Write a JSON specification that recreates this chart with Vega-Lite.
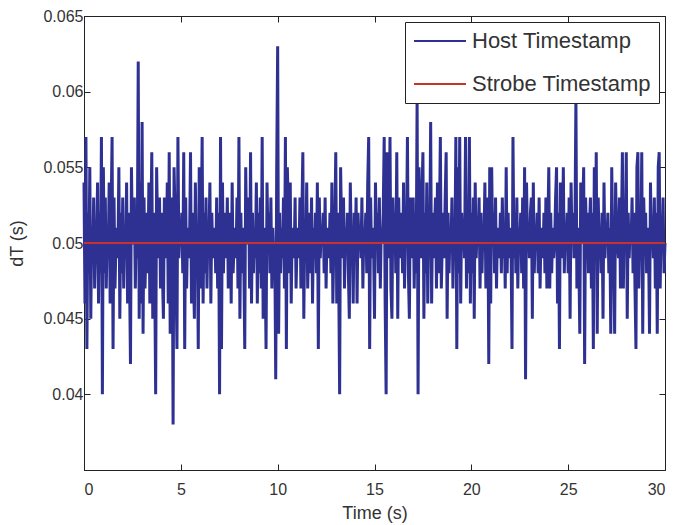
{
"$schema": "https://vega.github.io/schema/vega-lite/v6.json",
"width": 581, "height": 454,
"autosize": {"type": "none"},
"padding": {"left": 84, "top": 16, "right": 10, "bottom": 55},
"background": "white",
"config": {
  "view": {"stroke": "#222", "strokeWidth": 1},
  "font": "Liberation Sans",
  "axis": {"domainColor": "#222", "tickColor": "#222", "labelColor": "#333", "titleColor": "#333", "labelFont": "Liberation Sans", "titleFont": "Liberation Sans", "labelFontSize": 16, "titleFontSize": 18, "titleFontWeight": "normal", "grid": false, "tickSize": -6, "domainWidth": 1, "tickWidth": 1}
},
"datasets": {
"host": [
{"t":0,"v":0.054},{"t":0.05,"v":0.046},{"t":0.1,"v":0.057},{"t":0.15,"v":0.043},{"t":0.2,"v":0.052},{"t":0.25,"v":0.048},{"t":0.3,"v":0.055},{"t":0.35,"v":0.045},{"t":0.4,"v":0.051},{"t":0.45,"v":0.049},{"t":0.5,"v":0.053},{"t":0.55,"v":0.047},{"t":0.6,"v":0.05},{"t":0.65,"v":0.05},{"t":0.7,"v":0.054},{"t":0.75,"v":0.046},{"t":0.8,"v":0.052},{"t":0.85,"v":0.048},{"t":0.9,"v":0.057},{"t":0.95,"v":0.04},
{"t":1,"v":0.055},{"t":1.05,"v":0.048},{"t":1.1,"v":0.053},{"t":1.15,"v":0.047},{"t":1.2,"v":0.051},{"t":1.25,"v":0.049},{"t":1.3,"v":0.054},{"t":1.35,"v":0.046},{"t":1.4,"v":0.052},{"t":1.45,"v":0.057},{"t":1.5,"v":0.043},{"t":1.55,"v":0.053},{"t":1.6,"v":0.047},{"t":1.65,"v":0.05},{"t":1.7,"v":0.051},{"t":1.75,"v":0.049},{"t":1.8,"v":0.055},{"t":1.85,"v":0.045},{"t":1.9,"v":0.052},{"t":1.95,"v":0.048},
{"t":2,"v":0.053},{"t":2.05,"v":0.047},{"t":2.1,"v":0.051},{"t":2.15,"v":0.049},{"t":2.2,"v":0.054},{"t":2.25,"v":0.046},{"t":2.3,"v":0.052},{"t":2.35,"v":0.048},{"t":2.4,"v":0.042},{"t":2.45,"v":0.055},{"t":2.5,"v":0.05},{"t":2.55,"v":0.05},{"t":2.6,"v":0.053},{"t":2.65,"v":0.047},{"t":2.7,"v":0.051},{"t":2.75,"v":0.049},{"t":2.8,"v":0.062},{"t":2.85,"v":0.045},{"t":2.9,"v":0.054},{"t":2.95,"v":0.046},
{"t":3,"v":0.058},{"t":3.05,"v":0.044},{"t":3.1,"v":0.053},{"t":3.15,"v":0.047},{"t":3.2,"v":0.05},{"t":3.25,"v":0.052},{"t":3.3,"v":0.048},{"t":3.35,"v":0.054},{"t":3.4,"v":0.046},{"t":3.45,"v":0.051},{"t":3.5,"v":0.056},{"t":3.55,"v":0.045},{"t":3.6,"v":0.052},{"t":3.65,"v":0.048},{"t":3.7,"v":0.04},{"t":3.75,"v":0.055},{"t":3.8,"v":0.051},{"t":3.85,"v":0.049},{"t":3.9,"v":0.053},{"t":3.95,"v":0.047},
{"t":4,"v":0.052},{"t":4.05,"v":0.048},{"t":4.1,"v":0.045},{"t":4.15,"v":0.053},{"t":4.2,"v":0.05},{"t":4.25,"v":0.049},{"t":4.3,"v":0.054},{"t":4.35,"v":0.046},{"t":4.4,"v":0.056},{"t":4.45,"v":0.044},{"t":4.5,"v":0.051},{"t":4.55,"v":0.053},{"t":4.6,"v":0.038},{"t":4.65,"v":0.055},{"t":4.7,"v":0.052},{"t":4.75,"v":0.048},{"t":4.8,"v":0.043},{"t":4.85,"v":0.057},{"t":4.9,"v":0.049},{"t":4.95,"v":0.051},
{"t":5,"v":0.05},{"t":5.05,"v":0.052},{"t":5.1,"v":0.048},{"t":5.15,"v":0.056},{"t":5.2,"v":0.043},{"t":5.25,"v":0.053},{"t":5.3,"v":0.047},{"t":5.35,"v":0.051},{"t":5.4,"v":0.049},{"t":5.45,"v":0.05},{"t":5.5,"v":0.056},{"t":5.55,"v":0.046},{"t":5.6,"v":0.052},{"t":5.65,"v":0.048},{"t":5.7,"v":0.045},{"t":5.75,"v":0.054},{"t":5.8,"v":0.049},{"t":5.85,"v":0.051},{"t":5.9,"v":0.043},{"t":5.95,"v":0.055},
{"t":6,"v":0.047},{"t":6.05,"v":0.05},{"t":6.1,"v":0.057},{"t":6.15,"v":0.046},{"t":6.2,"v":0.052},{"t":6.25,"v":0.048},{"t":6.3,"v":0.053},{"t":6.35,"v":0.047},{"t":6.4,"v":0.051},{"t":6.45,"v":0.05},{"t":6.5,"v":0.054},{"t":6.55,"v":0.046},{"t":6.6,"v":0.052},{"t":6.65,"v":0.049},{"t":6.7,"v":0.05},{"t":6.75,"v":0.051},{"t":6.8,"v":0.048},{"t":6.85,"v":0.053},{"t":6.9,"v":0.047},{"t":6.95,"v":0.052},
{"t":7,"v":0.04},{"t":7.05,"v":0.057},{"t":7.1,"v":0.043},{"t":7.15,"v":0.054},{"t":7.2,"v":0.048},{"t":7.25,"v":0.052},{"t":7.3,"v":0.05},{"t":7.35,"v":0.049},{"t":7.4,"v":0.053},{"t":7.45,"v":0.047},{"t":7.5,"v":0.051},{"t":7.55,"v":0.052},{"t":7.6,"v":0.046},{"t":7.65,"v":0.054},{"t":7.7,"v":0.048},{"t":7.75,"v":0.05},{"t":7.8,"v":0.051},{"t":7.85,"v":0.049},{"t":7.9,"v":0.053},{"t":7.95,"v":0.047},
{"t":8,"v":0.057},{"t":8.05,"v":0.045},{"t":8.1,"v":0.052},{"t":8.15,"v":0.048},{"t":8.2,"v":0.051},{"t":8.25,"v":0.049},{"t":8.3,"v":0.043},{"t":8.35,"v":0.055},{"t":8.4,"v":0.05},{"t":8.45,"v":0.05},{"t":8.5,"v":0.053},{"t":8.55,"v":0.047},{"t":8.6,"v":0.056},{"t":8.65,"v":0.046},{"t":8.7,"v":0.052},{"t":8.75,"v":0.048},{"t":8.8,"v":0.051},{"t":8.85,"v":0.049},{"t":8.9,"v":0.054},{"t":8.95,"v":0.046},
{"t":9,"v":0.052},{"t":9.05,"v":0.048},{"t":9.1,"v":0.053},{"t":9.15,"v":0.047},{"t":9.2,"v":0.057},{"t":9.25,"v":0.045},{"t":9.3,"v":0.051},{"t":9.35,"v":0.049},{"t":9.4,"v":0.043},{"t":9.45,"v":0.054},{"t":9.5,"v":0.05},{"t":9.55,"v":0.052},{"t":9.6,"v":0.048},{"t":9.65,"v":0.053},{"t":9.7,"v":0.047},{"t":9.75,"v":0.051},{"t":9.8,"v":0.049},{"t":9.85,"v":0.05},{"t":9.9,"v":0.041},{"t":9.95,"v":0.055},
{"t":10,"v":0.063},{"t":10.05,"v":0.044},{"t":10.1,"v":0.052},{"t":10.15,"v":0.048},{"t":10.2,"v":0.051},{"t":10.25,"v":0.049},{"t":10.3,"v":0.053},{"t":10.35,"v":0.047},{"t":10.4,"v":0.057},{"t":10.45,"v":0.043},{"t":10.5,"v":0.055},{"t":10.55,"v":0.052},{"t":10.6,"v":0.048},{"t":10.65,"v":0.054},{"t":10.7,"v":0.046},{"t":10.75,"v":0.051},{"t":10.8,"v":0.05},{"t":10.85,"v":0.049},{"t":10.9,"v":0.053},{"t":10.95,"v":0.047},
{"t":11,"v":0.05},{"t":11.05,"v":0.051},{"t":11.1,"v":0.049},{"t":11.15,"v":0.053},{"t":11.2,"v":0.047},{"t":11.25,"v":0.052},{"t":11.3,"v":0.056},{"t":11.35,"v":0.045},{"t":11.4,"v":0.051},{"t":11.45,"v":0.049},{"t":11.5,"v":0.054},{"t":11.55,"v":0.047},{"t":11.6,"v":0.05},{"t":11.65,"v":0.052},{"t":11.7,"v":0.048},{"t":11.75,"v":0.053},{"t":11.8,"v":0.046},{"t":11.85,"v":0.051},{"t":11.9,"v":0.049},{"t":11.95,"v":0.052},
{"t":12,"v":0.048},{"t":12.05,"v":0.054},{"t":12.1,"v":0.043},{"t":12.15,"v":0.053},{"t":12.2,"v":0.049},{"t":12.25,"v":0.051},{"t":12.3,"v":0.05},{"t":12.35,"v":0.052},{"t":12.4,"v":0.048},{"t":12.45,"v":0.053},{"t":12.5,"v":0.047},{"t":12.55,"v":0.051},{"t":12.6,"v":0.05},{"t":12.65,"v":0.049},{"t":12.7,"v":0.052},{"t":12.75,"v":0.048},{"t":12.8,"v":0.054},{"t":12.85,"v":0.046},{"t":12.9,"v":0.05},{"t":12.95,"v":0.051},
{"t":13,"v":0.056},{"t":13.05,"v":0.046},{"t":13.1,"v":0.052},{"t":13.15,"v":0.048},{"t":13.2,"v":0.04},{"t":13.25,"v":0.055},{"t":13.3,"v":0.051},{"t":13.35,"v":0.049},{"t":13.4,"v":0.053},{"t":13.45,"v":0.047},{"t":13.5,"v":0.051},{"t":13.55,"v":0.05},{"t":13.6,"v":0.052},{"t":13.65,"v":0.048},{"t":13.7,"v":0.045},{"t":13.75,"v":0.054},{"t":13.8,"v":0.05},{"t":13.85,"v":0.051},{"t":13.9,"v":0.046},{"t":13.95,"v":0.052},
{"t":14,"v":0.049},{"t":14.05,"v":0.053},{"t":14.1,"v":0.046},{"t":14.15,"v":0.052},{"t":14.2,"v":0.05},{"t":14.25,"v":0.051},{"t":14.3,"v":0.049},{"t":14.35,"v":0.053},{"t":14.4,"v":0.047},{"t":14.45,"v":0.051},{"t":14.5,"v":0.05},{"t":14.55,"v":0.052},{"t":14.6,"v":0.048},{"t":14.65,"v":0.054},{"t":14.7,"v":0.057},{"t":14.75,"v":0.043},{"t":14.8,"v":0.053},{"t":14.85,"v":0.049},{"t":14.9,"v":0.051},{"t":14.95,"v":0.05},
{"t":15,"v":0.045},{"t":15.05,"v":0.054},{"t":15.1,"v":0.05},{"t":15.15,"v":0.052},{"t":15.2,"v":0.048},{"t":15.25,"v":0.053},{"t":15.3,"v":0.047},{"t":15.35,"v":0.051},{"t":15.4,"v":0.05},{"t":15.45,"v":0.052},{"t":15.5,"v":0.057},{"t":15.55,"v":0.046},{"t":15.6,"v":0.04},{"t":15.65,"v":0.056},{"t":15.7,"v":0.051},{"t":15.75,"v":0.049},{"t":15.8,"v":0.057},{"t":15.85,"v":0.047},{"t":15.9,"v":0.045},{"t":15.95,"v":0.053},
{"t":16,"v":0.05},{"t":16.05,"v":0.052},{"t":16.1,"v":0.048},{"t":16.15,"v":0.056},{"t":16.2,"v":0.045},{"t":16.25,"v":0.053},{"t":16.3,"v":0.049},{"t":16.35,"v":0.051},{"t":16.4,"v":0.052},{"t":16.45,"v":0.048},{"t":16.5,"v":0.054},{"t":16.55,"v":0.047},{"t":16.6,"v":0.051},{"t":16.65,"v":0.05},{"t":16.7,"v":0.057},{"t":16.75,"v":0.048},{"t":16.8,"v":0.045},{"t":16.85,"v":0.053},{"t":16.9,"v":0.051},{"t":16.95,"v":0.049},
{"t":17,"v":0.053},{"t":17.05,"v":0.047},{"t":17.1,"v":0.052},{"t":17.15,"v":0.048},{"t":17.2,"v":0.0595},{"t":17.25,"v":0.04},{"t":17.3,"v":0.055},{"t":17.35,"v":0.051},{"t":17.4,"v":0.049},{"t":17.45,"v":0.053},{"t":17.5,"v":0.056},{"t":17.55,"v":0.045},{"t":17.6,"v":0.052},{"t":17.65,"v":0.048},{"t":17.7,"v":0.054},{"t":17.75,"v":0.046},{"t":17.8,"v":0.051},{"t":17.85,"v":0.05},{"t":17.9,"v":0.058},{"t":17.95,"v":0.046},
{"t":18,"v":0.052},{"t":18.05,"v":0.049},{"t":18.1,"v":0.051},{"t":18.15,"v":0.053},{"t":18.2,"v":0.047},{"t":18.25,"v":0.054},{"t":18.3,"v":0.048},{"t":18.35,"v":0.051},{"t":18.4,"v":0.057},{"t":18.45,"v":0.047},{"t":18.5,"v":0.05},{"t":18.55,"v":0.052},{"t":18.6,"v":0.049},{"t":18.65,"v":0.053},{"t":18.7,"v":0.056},{"t":18.75,"v":0.045},{"t":18.8,"v":0.052},{"t":18.85,"v":0.048},{"t":18.9,"v":0.051},{"t":18.95,"v":0.05},
{"t":19,"v":0.053},{"t":19.05,"v":0.047},{"t":19.1,"v":0.051},{"t":19.15,"v":0.049},{"t":19.2,"v":0.057},{"t":19.25,"v":0.043},{"t":19.3,"v":0.055},{"t":19.35,"v":0.048},{"t":19.4,"v":0.057},{"t":19.45,"v":0.046},{"t":19.5,"v":0.052},{"t":19.55,"v":0.05},{"t":19.6,"v":0.051},{"t":19.65,"v":0.049},{"t":19.7,"v":0.057},{"t":19.75,"v":0.047},{"t":19.8,"v":0.052},{"t":19.85,"v":0.048},{"t":19.9,"v":0.057},{"t":19.95,"v":0.046},
{"t":20,"v":0.052},{"t":20.05,"v":0.048},{"t":20.1,"v":0.053},{"t":20.15,"v":0.045},{"t":20.2,"v":0.054},{"t":20.25,"v":0.049},{"t":20.3,"v":0.051},{"t":20.35,"v":0.05},{"t":20.4,"v":0.053},{"t":20.45,"v":0.047},{"t":20.5,"v":0.052},{"t":20.55,"v":0.048},{"t":20.6,"v":0.051},{"t":20.65,"v":0.05},{"t":20.7,"v":0.054},{"t":20.75,"v":0.047},{"t":20.8,"v":0.051},{"t":20.85,"v":0.053},{"t":20.9,"v":0.042},{"t":20.95,"v":0.055},
{"t":21,"v":0.046},{"t":21.05,"v":0.055},{"t":21.1,"v":0.05},{"t":21.15,"v":0.052},{"t":21.2,"v":0.048},{"t":21.25,"v":0.053},{"t":21.3,"v":0.047},{"t":21.35,"v":0.051},{"t":21.4,"v":0.05},{"t":21.45,"v":0.049},{"t":21.5,"v":0.052},{"t":21.55,"v":0.048},{"t":21.6,"v":0.053},{"t":21.65,"v":0.049},{"t":21.7,"v":0.051},{"t":21.75,"v":0.047},{"t":21.8,"v":0.055},{"t":21.85,"v":0.048},{"t":21.9,"v":0.052},{"t":21.95,"v":0.049},
{"t":22,"v":0.051},{"t":22.05,"v":0.05},{"t":22.1,"v":0.043},{"t":22.15,"v":0.057},{"t":22.2,"v":0.049},{"t":22.25,"v":0.052},{"t":22.3,"v":0.048},{"t":22.35,"v":0.053},{"t":22.4,"v":0.047},{"t":22.45,"v":0.051},{"t":22.5,"v":0.05},{"t":22.55,"v":0.052},{"t":22.6,"v":0.048},{"t":22.65,"v":0.053},{"t":22.7,"v":0.047},{"t":22.75,"v":0.055},{"t":22.8,"v":0.041},{"t":22.85,"v":0.054},{"t":22.9,"v":0.05},{"t":22.95,"v":0.051},
{"t":23,"v":0.049},{"t":23.05,"v":0.052},{"t":23.1,"v":0.053},{"t":23.15,"v":0.045},{"t":23.2,"v":0.054},{"t":23.25,"v":0.048},{"t":23.3,"v":0.051},{"t":23.35,"v":0.05},{"t":23.4,"v":0.052},{"t":23.45,"v":0.048},{"t":23.5,"v":0.053},{"t":23.55,"v":0.047},{"t":23.6,"v":0.051},{"t":23.65,"v":0.05},{"t":23.7,"v":0.049},{"t":23.75,"v":0.052},{"t":23.8,"v":0.048},{"t":23.85,"v":0.053},{"t":23.9,"v":0.047},{"t":23.95,"v":0.051},
{"t":24,"v":0.055},{"t":24.05,"v":0.047},{"t":24.1,"v":0.052},{"t":24.15,"v":0.048},{"t":24.2,"v":0.051},{"t":24.25,"v":0.049},{"t":24.3,"v":0.05},{"t":24.35,"v":0.053},{"t":24.4,"v":0.055},{"t":24.45,"v":0.046},{"t":24.5,"v":0.052},{"t":24.55,"v":0.043},{"t":24.6,"v":0.054},{"t":24.65,"v":0.05},{"t":24.7,"v":0.049},{"t":24.75,"v":0.055},{"t":24.8,"v":0.048},{"t":24.85,"v":0.051},{"t":24.9,"v":0.05},{"t":24.95,"v":0.052},
{"t":25,"v":0.048},{"t":25.05,"v":0.053},{"t":25.1,"v":0.045},{"t":25.15,"v":0.054},{"t":25.2,"v":0.05},{"t":25.25,"v":0.052},{"t":25.3,"v":0.049},{"t":25.35,"v":0.051},{"t":25.4,"v":0.0595},{"t":25.45,"v":0.047},{"t":25.5,"v":0.051},{"t":25.55,"v":0.049},{"t":25.6,"v":0.044},{"t":25.65,"v":0.054},{"t":25.7,"v":0.05},{"t":25.75,"v":0.052},{"t":25.8,"v":0.055},{"t":25.85,"v":0.042},{"t":25.9,"v":0.053},{"t":25.95,"v":0.05},
{"t":26,"v":0.052},{"t":26.05,"v":0.048},{"t":26.1,"v":0.051},{"t":26.15,"v":0.053},{"t":26.2,"v":0.047},{"t":26.25,"v":0.052},{"t":26.3,"v":0.043},{"t":26.35,"v":0.055},{"t":26.4,"v":0.049},{"t":26.45,"v":0.056},{"t":26.5,"v":0.044},{"t":26.55,"v":0.053},{"t":26.6,"v":0.05},{"t":26.65,"v":0.051},{"t":26.7,"v":0.048},{"t":26.75,"v":0.052},{"t":26.8,"v":0.045},{"t":26.85,"v":0.054},{"t":26.9,"v":0.049},{"t":26.95,"v":0.051},
{"t":27,"v":0.05},{"t":27.05,"v":0.052},{"t":27.1,"v":0.048},{"t":27.15,"v":0.051},{"t":27.2,"v":0.044},{"t":27.25,"v":0.055},{"t":27.3,"v":0.05},{"t":27.35,"v":0.049},{"t":27.4,"v":0.044},{"t":27.45,"v":0.054},{"t":27.5,"v":0.051},{"t":27.55,"v":0.05},{"t":27.6,"v":0.049},{"t":27.65,"v":0.053},{"t":27.7,"v":0.047},{"t":27.75,"v":0.051},{"t":27.8,"v":0.056},{"t":27.85,"v":0.047},{"t":27.9,"v":0.052},{"t":27.95,"v":0.05},
{"t":28,"v":0.056},{"t":28.05,"v":0.045},{"t":28.1,"v":0.052},{"t":28.15,"v":0.049},{"t":28.2,"v":0.051},{"t":28.25,"v":0.05},{"t":28.3,"v":0.053},{"t":28.35,"v":0.048},{"t":28.4,"v":0.052},{"t":28.45,"v":0.047},{"t":28.5,"v":0.043},{"t":28.55,"v":0.055},{"t":28.6,"v":0.056},{"t":28.65,"v":0.047},{"t":28.7,"v":0.051},{"t":28.75,"v":0.049},{"t":28.8,"v":0.056},{"t":28.85,"v":0.044},{"t":28.9,"v":0.053},{"t":28.95,"v":0.05},
{"t":29,"v":0.052},{"t":29.05,"v":0.048},{"t":29.1,"v":0.051},{"t":29.15,"v":0.05},{"t":29.2,"v":0.044},{"t":29.25,"v":0.054},{"t":29.3,"v":0.05},{"t":29.35,"v":0.051},{"t":29.4,"v":0.049},{"t":29.45,"v":0.053},{"t":29.5,"v":0.047},{"t":29.55,"v":0.052},{"t":29.6,"v":0.044},{"t":29.65,"v":0.055},{"t":29.7,"v":0.056},{"t":29.75,"v":0.047},{"t":29.8,"v":0.051},{"t":29.85,"v":0.05},{"t":29.9,"v":0.053},{"t":29.95,"v":0.048},
{"t":30,"v":0.05}
],
"strobe": [{"t":0,"v":0.05},{"t":30,"v":0.05}]
},
"layer": [
  {
    "data": {"name": "host"},
    "mark": {"type": "line", "strokeWidth": 3},
    "encoding": {
      "x": {"field": "t", "type": "quantitative", "scale": {"domain": [0, 30], "nice": false}, "axis": {"values": [0, 5, 10, 15, 20, 25, 30], "title": "Time (s)", "labelPadding": 17, "titlePadding": 7}},
      "y": {"field": "v", "type": "quantitative", "scale": {"domain": [0.035, 0.065], "nice": false, "zero": false}, "axis": {"values": [0.04, 0.045, 0.05, 0.055, 0.06, 0.065], "format": "~g", "title": "dT (s)", "titleFontSize": 18, "labelPadding": 7, "titlePadding": 16}},
      "color": {"datum": "Host Timestamp", "type": "nominal", "scale": {"domain": ["Host Timestamp", "Strobe Timestamp"], "range": ["#2e3192", "#c8322d"]},
        "legend": {"title": null, "orient": "top-right", "offset": 6, "strokeColor": "#222", "fillColor": "white", "padding": 8, "symbolType": "stroke", "symbolSize": 2704, "symbolStrokeWidth": 2, "clipHeight": 22, "labelFontSize": 22, "labelFont": "Liberation Sans", "labelColor": "#333", "labelOffset": 5, "rowPadding": 21, "labelLimit": 400}}
    }
  },
  {
    "data": {"name": "strobe"},
    "mark": {"type": "line", "strokeWidth": 2},
    "encoding": {
      "x": {"field": "t", "type": "quantitative", "axis": null},
      "y": {"field": "v", "type": "quantitative", "axis": null},
      "color": {"datum": "Strobe Timestamp", "type": "nominal"}
    }
  },
  {
    "data": {"name": "strobe"},
    "mark": {"type": "line", "opacity": 0},
    "encoding": {
      "x": {"field": "t", "type": "quantitative", "axis": {"orient": "top", "labels": false, "title": null, "values": [0, 5, 10, 15, 20, 25, 30]}},
      "y": {"field": "v", "type": "quantitative", "axis": {"orient": "right", "labels": false, "title": null, "values": [0.04, 0.045, 0.05, 0.055, 0.06, 0.065]}}
    }
  }
],
"resolve": {"axis": {"x": "independent", "y": "independent"}}
}
